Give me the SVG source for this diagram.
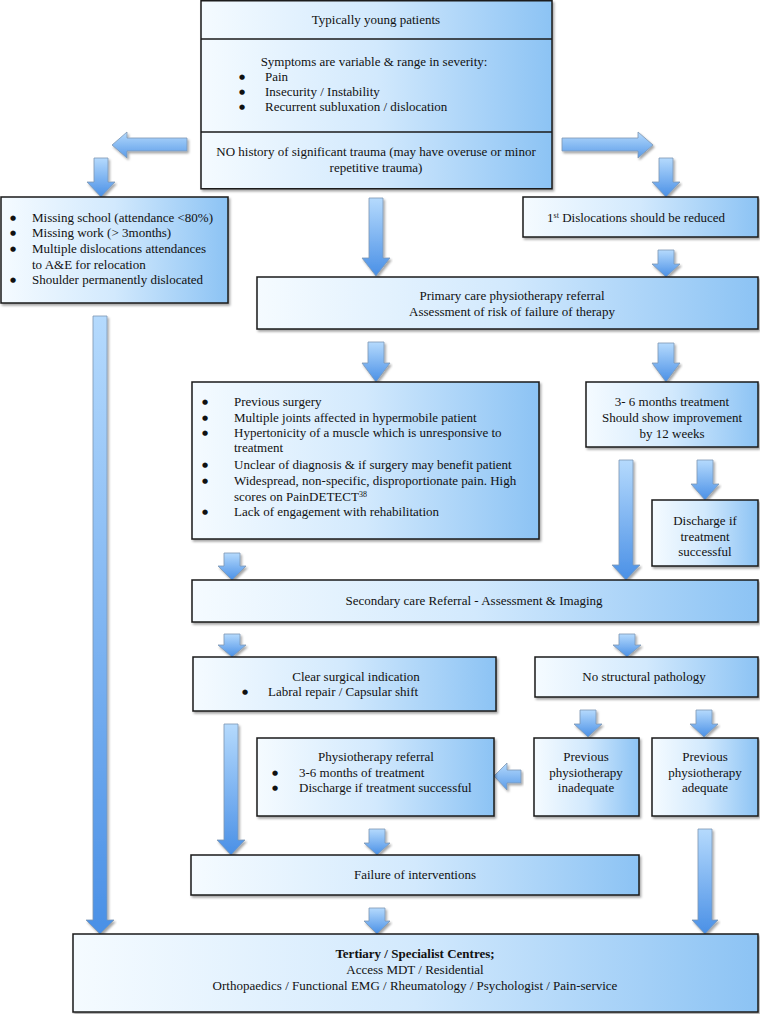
<svg xmlns="http://www.w3.org/2000/svg" width="760" height="1014" viewBox="0 0 760 1014">
<defs>
<linearGradient id="boxg" x1="0" y1="0" x2="1" y2="0">
<stop offset="0" stop-color="#f5fbff"/>
<stop offset="0.5" stop-color="#d2e9fd"/>
<stop offset="1" stop-color="#8cc3f4"/>
</linearGradient>
<linearGradient id="arrg" x1="0" y1="0" x2="0" y2="1">
<stop offset="0" stop-color="#b5dafd"/>
<stop offset="1" stop-color="#4a90e6"/>
</linearGradient>
<linearGradient id="arrh" x1="0" y1="0" x2="0" y2="1">
<stop offset="0" stop-color="#b5dafd"/>
<stop offset="1" stop-color="#5a9be8"/>
</linearGradient>
<filter id="sh" x="-5%" y="-5%" width="115%" height="125%">
<feDropShadow dx="1.5" dy="2" stdDeviation="1.2" flood-color="#000" flood-opacity="0.35"/>
</filter>
</defs>
<style>
.box{fill:url(#boxg);stroke:#1a1a1a;stroke-width:1.5;filter:url(#sh)}
.div{stroke:#1a1a1a;stroke-width:1.5}
.arr{fill:url(#arrg);stroke:#7d97b3;stroke-width:0.8;filter:url(#sh)}
.arh{fill:url(#arrh);stroke:#7d97b3;stroke-width:0.8;filter:url(#sh)}
text{font-family:"Liberation Serif","Times New Roman",serif;font-size:13px;fill:#111}
.c{text-anchor:middle}
.b{font-weight:bold}
.u{font-family:"DejaVu Sans",sans-serif;font-size:7px}
</style>

<g id="connectors">
<path class="arh" d="M187,138 H127 V132 L112,145 L127,158 V151 H187 Z"/>
<path class="arh" d="M562,138 H638 V132 L653,145 L638,158 V151 H562 Z"/>
<path class="arr" d="M94,158 H108 V182 H115 L101,197 L87,182 H94 Z"/>
<path class="arr" d="M659,158 H673 V182 H680 L666,197 L652,182 H659 Z"/>
<path class="arr" d="M369,198 H383 V258 H390 L376,276 L362,258 H369 Z"/>
<path class="arr" d="M658,250 H674 V264 H680 L666,277 L652,264 H658 Z"/>
<path class="arr" d="M368,342 H384 V363 H390 L376,382 L362,363 H368 Z"/>
<path class="arr" d="M658,343 H674 V363 H680 L666,382 L652,363 H658 Z"/>
<path class="arr" d="M697,460 H713 V484 H719 L705,500 L691,484 H697 Z"/>
<path class="arr" d="M619,460 H633 V565 H640 L626,580 L612,565 H619 Z"/>
<path class="arr" d="M224,553 H240 V566 H246 L232,580 L218,566 H224 Z"/>
<path class="arr" d="M224,634 H240 V645 H246 L232,657 L218,645 H224 Z"/>
<path class="arr" d="M619,634 H635 V645 H641 L627,657 L613,645 H619 Z"/>
<path class="arr" d="M580,710 H596 V724 H602 L588,737 L574,724 H580 Z"/>
<path class="arr" d="M696,710 H712 V724 H718 L704,737 L690,724 H696 Z"/>
<path class="arr" d="M224,724 H238 V840 H245 L231,855 L217,840 H224 Z"/>
<path class="arr" d="M93,316 H107 V920 H114 L100,934 L86,920 H93 Z"/>
<path class="arh" d="M521,770 H507 V763 L494,776 L507,790 V783 H521 Z"/>
<path class="arr" d="M369,829 H385 V843 H390 L377,855 L364,843 H369 Z"/>
<path class="arr" d="M369,908 H385 V921 H390 L377,934 L364,921 H369 Z"/>
<path class="arr" d="M698,829 H712 V920 H718 L705,934 L692,920 H698 Z"/>
</g>

<g id="top">
<rect class="box" x="201" y="0.75" width="351" height="188"/>
<line class="div" x1="201" y1="39" x2="552" y2="39"/>
<line class="div" x1="201" y1="132" x2="552" y2="132"/>
<text class="c" x="376" y="24">Typically young patients</text>
<text class="c" x="374" y="66">Symptoms are variable &amp; range in severity:</text>
<text class="u" x="239" y="79">●</text><text x="265" y="81">Pain</text>
<text class="u" x="239" y="94">●</text><text x="265" y="96">Insecurity / Instability</text>
<text class="u" x="239" y="109">●</text><text x="265" y="111">Recurrent subluxation / dislocation</text>
<text class="c" x="376" y="156">NO history of significant trauma (may have overuse or minor</text>
<text class="c" x="376" y="172">repetitive trauma)</text>
</g>

<g id="missing">
<rect class="box" x="1" y="197" width="227" height="106"/>
<text class="u" x="10" y="220">●</text><text x="32" y="222">Missing school (attendance &lt;80%)</text>
<text class="u" x="10" y="235">●</text><text x="32" y="237">Missing work (&gt; 3months)</text>
<text class="u" x="10" y="251">●</text><text x="32" y="253">Multiple dislocations attendances</text>
<text x="32" y="269">to A&amp;E for relocation</text>
<text class="u" x="10" y="282">●</text><text x="32" y="284">Shoulder permanently dislocated</text>
</g>

<g id="first-dislocation">
<rect class="box" x="523" y="197" width="235" height="40"/>
<text class="c" x="636" y="222">1<tspan font-size="8" dy="-4">st</tspan><tspan dy="4"> Dislocations should be reduced</tspan></text>
</g>

<g id="primary">
<rect class="box" x="257" y="277" width="501" height="52"/>
<text class="c" x="512" y="300">Primary care physiotherapy referral</text>
<text class="c" x="512" y="316">Assessment of risk of failure of therapy</text>
</g>

<g id="risk-list">
<rect class="box" x="192" y="382" width="347" height="157"/>
<text class="u" x="202" y="404">●</text><text x="234" y="406">Previous surgery</text>
<text class="u" x="202" y="420">●</text><text x="234" y="422">Multiple joints affected in hypermobile patient</text>
<text class="u" x="202" y="435">●</text><text x="234" y="437">Hypertonicity of a muscle which is unresponsive to</text>
<text x="234" y="452">treatment</text>
<text class="u" x="202" y="467">●</text><text x="234" y="469">Unclear of diagnosis &amp; if surgery may benefit patient</text>
<text class="u" x="202" y="483">●</text><text x="234" y="485">Widespread, non-specific, disproportionate pain. High</text>
<text x="234" y="501">scores on PainDETECT<tspan font-size="8" dy="-4">38</tspan></text>
<text class="u" x="202" y="514">●</text><text x="234" y="516">Lack of engagement with rehabilitation</text>
</g>

<g id="treatment">
<rect class="box" x="586" y="382" width="172" height="65"/>
<text class="c" x="672" y="406">3- 6 months treatment</text>
<text class="c" x="672" y="422">Should show improvement</text>
<text class="c" x="672" y="438">by 12 weeks</text>
</g>

<g id="discharge">
<rect class="box" x="652" y="500" width="106" height="66"/>
<text class="c" x="705" y="525">Discharge if</text>
<text class="c" x="705" y="541">treatment</text>
<text class="c" x="705" y="556">successful</text>
</g>

<g id="secondary">
<rect class="box" x="192" y="580" width="566" height="42"/>
<text class="c" x="474" y="605">Secondary care Referral - Assessment &amp; Imaging</text>
</g>

<g id="surgical">
<rect class="box" x="193" y="657" width="303" height="54"/>
<text class="c" x="356" y="681">Clear surgical indication</text>
<text class="u" x="242" y="694">●</text><text x="268" y="696">Labral repair / Capsular shift</text>
</g>

<g id="no-structural">
<rect class="box" x="535" y="657" width="223" height="40"/>
<text class="c" x="644" y="681">No structural pathology</text>
</g>

<g id="physio">
<rect class="box" x="257" y="738" width="237" height="78"/>
<text class="c" x="376" y="761">Physiotherapy referral</text>
<text class="u" x="272" y="775">●</text><text x="299" y="777">3-6 months of treatment</text>
<text class="u" x="272" y="790">●</text><text x="299" y="792">Discharge if treatment successful</text>
</g>

<g id="inadequate">
<rect class="box" x="534" y="738" width="105" height="78"/>
<text class="c" x="586" y="761">Previous</text>
<text class="c" x="586" y="777">physiotherapy</text>
<text class="c" x="586" y="792">inadequate</text>
</g>

<g id="adequate">
<rect class="box" x="652" y="738" width="106" height="78"/>
<text class="c" x="705" y="761">Previous</text>
<text class="c" x="705" y="777">physiotherapy</text>
<text class="c" x="705" y="792">adequate</text>
</g>

<g id="failure">
<rect class="box" x="191" y="855" width="448" height="40"/>
<text class="c" x="415" y="879">Failure of interventions</text>
</g>

<g id="tertiary">
<rect class="box" x="73" y="934" width="685" height="78"/>
<text class="c b" x="415" y="958">Tertiary / Specialist Centres;</text>
<text class="c" x="415" y="974">Access MDT / Residential</text>
<text class="c" x="415" y="990">Orthopaedics / Functional EMG / Rheumatology / Psychologist / Pain-service</text>
</g>
</svg>
